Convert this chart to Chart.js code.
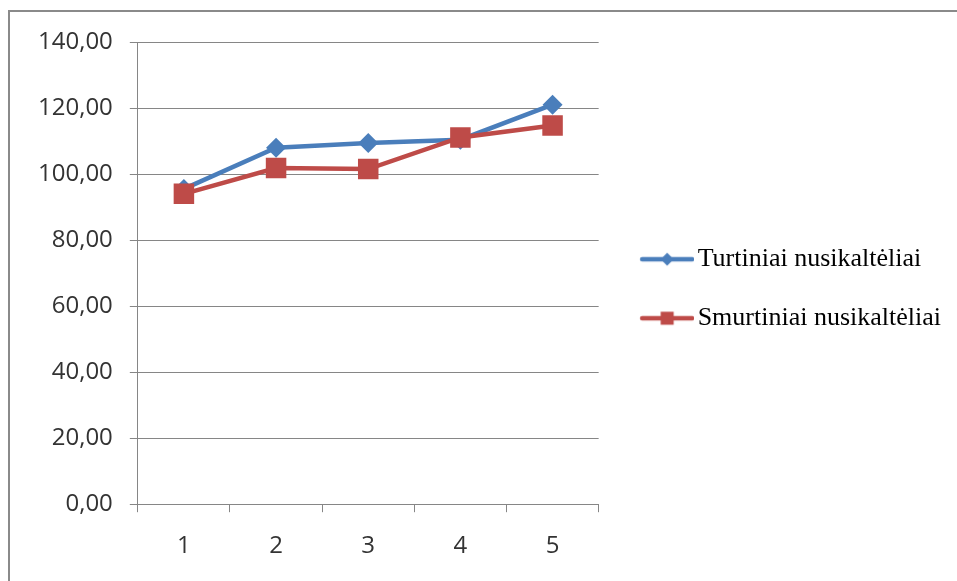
<!DOCTYPE html>
<html>
<head>
<meta charset="utf-8">
<script src="https://cdn.jsdelivr.net/npm/chart.js@4"></script>
<style>
  html, body { margin: 0; padding: 0; background: #fff; overflow: hidden; }
  #wrap { position: relative; width: 957px; height: 581px; }
  #frame { position: absolute; left: 8px; top: 10px; width: 2000px; height: 2000px;
           border-left: 2px solid #8a8a8a; border-top: 2px solid #8a8a8a; pointer-events: none; }
  canvas { position: absolute; left: 0; top: 0; }
</style>
</head>
<body>
<div id="wrap">
  <canvas id="c" width="957" height="581"></canvas>
  <div id="frame"></div>
</div>
<script>
const categories = ['1', '2', '3', '4', '5'];
const seriesNames = ['Turtiniai nusikaltėliai', 'Smurtiniai nusikaltėliai'];
const turtiniai = [95.5, 108.0, 109.4, 110.4, 121.0];
const smurtiniai = [94.0, 101.8, 101.5, 111.1, 114.7];
const yTicks = [0, 20, 40, 60, 80, 100, 120, 140];

const BLUE = '#4A7EBB';
const RED = '#BE4B48';

function legendImage(color, shape) {
  const c = document.createElement('canvas');
  c.width = 72; c.height = 22;
  const g = c.getContext('2d');
  g.strokeStyle = color; g.lineWidth = 4.5; g.lineCap = 'round';
  g.beginPath(); g.moveTo(20, 11); g.lineTo(70, 11); g.stroke();
  g.fillStyle = color;
  g.beginPath();
  const cx = 45;
  if (shape === 'diamond') {
    g.moveTo(cx - 6.5, 11); g.lineTo(cx, 11 - 6.5); g.lineTo(cx + 6.5, 11); g.lineTo(cx, 11 + 6.5);
  } else {
    g.rect(cx - 6.5, 11 - 6.5, 13, 13);
  }
  g.closePath(); g.fill();
  return c;
}
const legendImgs = [legendImage(BLUE, 'diamond'), legendImage(RED, 'square')];

new Chart(document.getElementById('c'), {
  type: 'line',
  data: {
    labels: categories,
    datasets: [
      { label: seriesNames[0], data: turtiniai, borderColor: BLUE, backgroundColor: BLUE,
        borderWidth: 4.5, pointStyle: 'rectRot', pointRadius: 10, pointBorderWidth: 0,
        pointBackgroundColor: BLUE, tension: 0, order: 1 },
      { label: seriesNames[1], data: smurtiniai, borderColor: RED, backgroundColor: RED,
        borderWidth: 4.5, pointStyle: 'rect', pointRadius: 14.5, pointBorderWidth: 0,
        pointBackgroundColor: RED, tension: 0, order: 0 }
    ]
  },
  options: {
    responsive: false,
    animation: false,
    devicePixelRatio: 1,
    layout: { padding: { left: 21, top: 42, bottom: 0, right: 6 } },
    plugins: {
      tooltip: { enabled: false },
      legend: {
        position: 'right',
        fullSize: false,
        maxWidth: 359,
        title: { display: true, text: ' ', padding: 0, font: { size: 26 } },
        labels: {
          usePointStyle: true,
          pointStyleWidth: 53,
          boxHeight: 22,
          padding: 33,
          color: '#000',
          font: { family: '"Liberation Serif", "Times New Roman", serif', size: 26 },
          generateLabels: (chart) => chart.data.datasets.map((ds, i) => ({
            text: ds.label, pointStyle: legendImgs[i], fillStyle: ds.borderColor,
            strokeStyle: ds.borderColor, lineWidth: 0, hidden: false, datasetIndex: i,
            fontColor: '#000'
          }))
        }
      }
    },
    scales: {
      x: {
        offset: true,
        grid: { offset: true, drawOnChartArea: false, drawTicks: true, tickLength: 8, color: '#868686', lineWidth: 1 },
        border: { display: true, color: '#868686', width: 1 },
        ticks: { padding: 20, color: '#333', font: { family: '"Open Sans"', size: 24 } }
      },
      y: {
        min: 0, max: 140,
        afterBuildTicks: (axis) => { axis.ticks = yTicks.map(v => ({ value: v })); },
        grid: { color: '#868686', lineWidth: 1, tickLength: 8, drawTicks: true },
        border: { display: true, color: '#868686', width: 1 },
        ticks: { padding: 17, color: '#333', font: { family: '"Open Sans"', size: 24 },
                 callback: (v) => Number(v).toFixed(2).replace('.', ',') }
      }
    }
  }
});
</script>
</body>
</html>
